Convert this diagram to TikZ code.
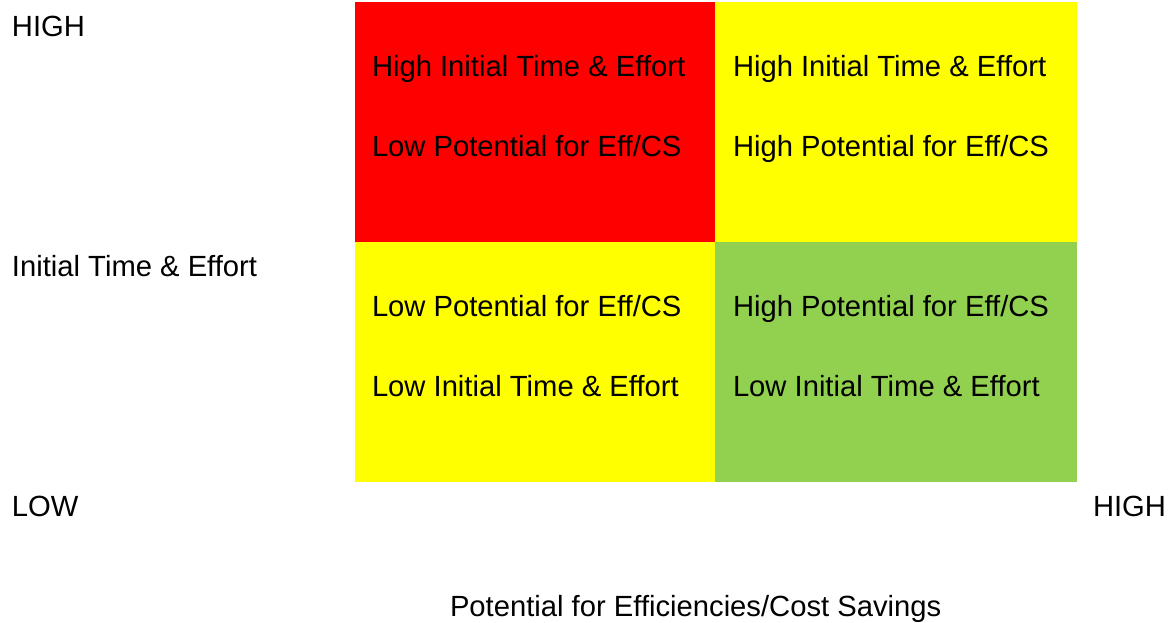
\documentclass[tikz,border=0pt]{standalone}
\usepackage{fontspec}
\setmainfont{Liberation Sans}
\definecolor{qred}{RGB}{255,0,0}
\definecolor{qyellow}{RGB}{255,255,0}
\definecolor{qgreen}{RGB}{146,208,80}
\begin{document}
\begin{tikzpicture}[x=1pt,y=-1pt,
  lbl/.style={anchor=base west,inner sep=0pt,outer sep=0pt,font=\fontsize{29.2}{35}\selectfont},
  quad/.style={anchor=north west,inner sep=0pt,outer sep=0pt,minimum width=#1,minimum height=240pt}]
\useasboundingbox (0,0) rectangle (1170,622);
% quadrants
\node[quad=360pt,fill=qred]    (q1) at (355,1.5)   {};
\node[quad=362pt,fill=qyellow] (q2) at (715,1.5)   {};
\node[quad=360pt,fill=qyellow] (q3) at (355,241.5) {};
\node[quad=362pt,fill=qgreen]  (q4) at (715,241.5) {};
% quadrant texts
\node[lbl] (t1a) at (372,76)  {High Initial Time \& Effort};
\node[lbl] (t1b) at (372,156) {Low Potential for Eff/CS};
\node[lbl] (t2a) at (733,76)  {High Initial Time \& Effort};
\node[lbl] (t2b) at (733,156) {High Potential for Eff/CS};
\node[lbl] (t3a) at (372,316) {Low Potential for Eff/CS};
\node[lbl] (t3b) at (372,396) {Low Initial Time \& Effort};
\node[lbl] (t4a) at (733,316) {High Potential for Eff/CS};
\node[lbl] (t4b) at (733,396) {Low Initial Time \& Effort};
% axis labels
\node[lbl] (yhigh) at (12,36)   {HIGH};
\node[lbl] (ytitle) at (12,276) {Initial Time \& Effort};
\node[lbl] (low) at (12,516)    {LOW};
\node[lbl] (xhigh) at (1093,516) {HIGH};
\node[lbl] (xtitle) at (450,616) {Potential for Efficiencies/Cost Savings};
\end{tikzpicture}
\end{document}
